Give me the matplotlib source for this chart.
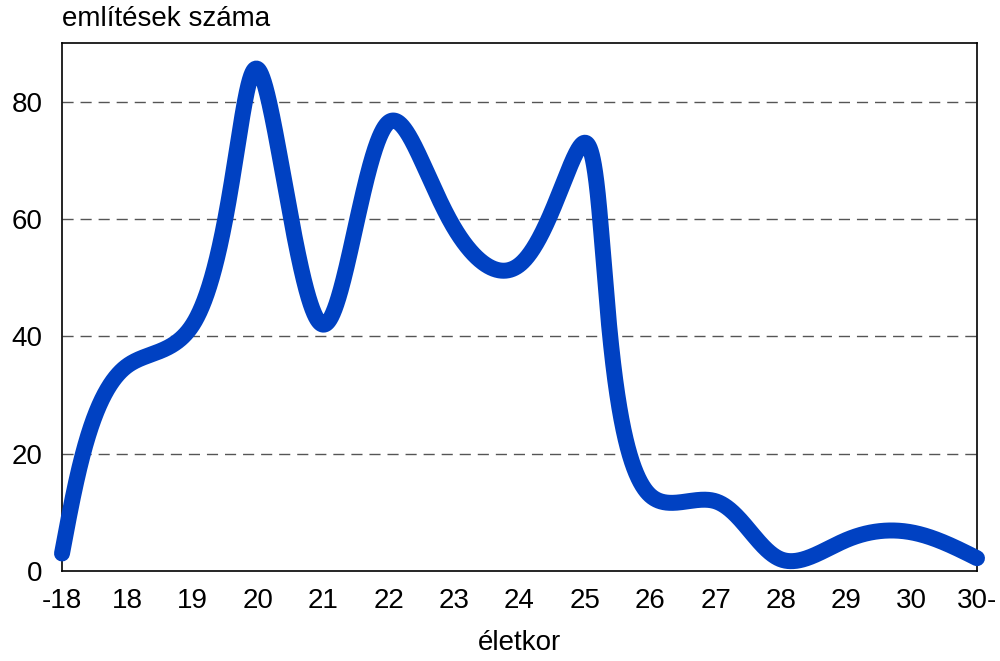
import matplotlib
matplotlib.use("Agg")
import matplotlib.pyplot as plt
import numpy as np

plt.rcParams["font.family"] = ["Liberation Sans", "DejaVu Sans"]

# Data
categories = ["-18", "18", "19", "20", "21", "22", "23", "24",
              "25", "26", "27", "28", "29", "30", "30-"]
mentions = [3.0, 35, 42, 85.5, 42, 76.5, 58.5, 52.2, 73, 12.9, 11.9, 2.0, 5.3, 6.6, 2.2]

LINE_COLOR = "#0041c2"
Y_MAX = 90


def natural_spline(t, v, tt):
    """Natural cubic spline through (t, v), evaluated at tt."""
    n = len(t)
    h = np.diff(t)
    A = np.zeros((n, n))
    r = np.zeros(n)
    A[0, 0] = A[-1, -1] = 1.0
    for i in range(1, n - 1):
        A[i, i - 1] = h[i - 1]
        A[i, i] = 2 * (h[i - 1] + h[i])
        A[i, i + 1] = h[i]
        r[i] = 6 * ((v[i + 1] - v[i]) / h[i] - (v[i] - v[i - 1]) / h[i - 1])
    M = np.linalg.solve(A, r)
    idx = np.clip(np.searchsorted(t, tt) - 1, 0, n - 2)
    t0, t1, hi = t[idx], t[idx + 1], h[idx]
    return (M[idx] * (t1 - tt) ** 3 / (6 * hi) + M[idx + 1] * (tt - t0) ** 3 / (6 * hi)
            + (v[idx] / hi - M[idx] * hi / 6) * (t1 - tt)
            + (v[idx + 1] / hi - M[idx + 1] * hi / 6) * (tt - t0))


def smooth_curve(y, sx, sy, alpha=0.6, steps=3000):
    """Parametric cubic spline, parameter = (screen chord length) ** alpha."""
    x = np.arange(len(y), dtype=float)
    y = np.asarray(y, dtype=float)
    seg = np.hypot(np.diff(x) * sx, np.diff(y) * sy) ** alpha
    t = np.concatenate([[0], np.cumsum(seg)])
    tt = np.linspace(0, t[-1], steps)
    return natural_spline(t, x, tt), natural_spline(t, y, tt)


fig = plt.figure(figsize=(10, 6.61), dpi=100)
ax = fig.add_axes([0.062, 0.136, 0.915, 0.799])

# pixel size of one category step and one y unit
px_x = 1000 * 0.915 / (len(categories) - 1)
px_y = 661 * 0.799 / Y_MAX
cx, cy = smooth_curve(mentions, px_x, px_y)
ax.plot(cx, cy, color=LINE_COLOR, linewidth=11.5, solid_capstyle="round",
        solid_joinstyle="round", clip_on=False, zorder=3)

ax.set_xlim(0, len(categories) - 1)
ax.set_ylim(0, Y_MAX)
ax.set_xticks(np.arange(len(categories)))
ax.set_xticklabels(categories)
ax.set_yticks([0, 20, 40, 60, 80])
ax.tick_params(length=0, labelsize=20)
ax.tick_params(axis="x", pad=12)
ax.tick_params(axis="y", pad=14)

for v in [20, 40, 60, 80]:
    ax.axhline(v, color="#555555", linestyle=(0, (8, 5)), linewidth=1.0, zorder=1)

for spine in ax.spines.values():
    spine.set_linewidth(1.2)
    spine.set_color("black")

ax.set_xlabel("életkor", fontsize=20, labelpad=12)
fig.text(0.062, 0.971, "említések száma", fontsize=20, ha="left", va="center")

fig.savefig("out.png", dpi=100)
